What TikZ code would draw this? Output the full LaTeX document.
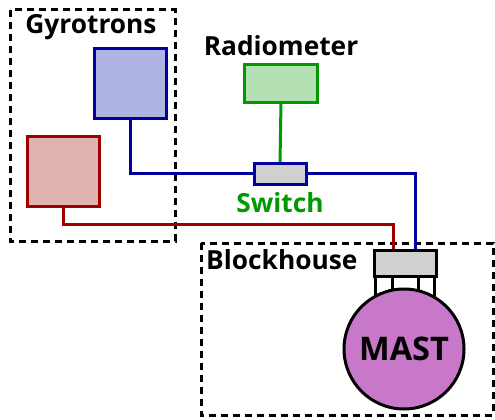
\documentclass[tikz,border=0pt]{standalone}
\usepackage{fontspec}
\setmainfont{Open Sans}
\definecolor{bluedark}{HTML}{0000A0}
\definecolor{bluefill}{HTML}{B0B4E2}
\definecolor{reddark}{HTML}{A00000}
\definecolor{redfill}{HTML}{E0B2B2}
\definecolor{greendark}{HTML}{009900}
\definecolor{greenfill}{HTML}{B2E0B2}
\definecolor{grayfill}{HTML}{D0D0D0}
\definecolor{mastfill}{HTML}{C878C8}
\begin{document}
\begin{tikzpicture}[x=1pt,y=-1pt,
  region/.style={draw=black,line width=3pt,dash pattern=on 7pt off 5pt},
  lbl/.style={font=\fontsize{26.3}{31}\selectfont\bfseries,inner sep=0pt},
  unit/.style={line width=3pt,inner sep=0pt,outer sep=0pt,anchor=north west},
  wire/.style={line width=3pt}]
\useasboundingbox (0,0) rectangle (495,420);
% regions
\draw[region] (10,10) rectangle (175,241);
\draw[region] (201,243) rectangle (493,415);
% labels
\node[lbl] (gyl) at (91,27) {Gyrotrons};
\node[lbl] (radl) at (281,46) {Radiometer};
\node[lbl,text=greendark] (swl) at (280,203) {Switch};
\node[lbl,anchor=west] (bhl) at (206,260) {Blockhouse};
% boxes
\node[unit,draw=bluedark,fill=bluefill,minimum width=72pt,minimum height=70pt] (gyb) at (94.5,48.5) {};
\node[unit,draw=reddark,fill=redfill,minimum width=72pt,minimum height=70pt] (gyr) at (27.5,136.5) {};
\node[unit,draw=greendark,fill=greenfill,minimum width=73pt,minimum height=37pt] (rad) at (244.5,65) {};
% wires
\coordinate (bc) at (129,173);
\coordinate (bd) at (415,173);
\coordinate (rc) at (63,224);
\coordinate (rd) at (393,224);
\draw[wire,greendark] (rad.south) -- (280,163);
\draw[wire,bluedark] (gyb.south) |- (bc) -- (bd) -- (415,252);
\draw[wire,reddark] (gyr.south -| rc) |- (rd) -- (393,252);
% switch
\node[unit,draw=bluedark,fill=grayfill,minimum width=52pt,minimum height=21pt] (sw) at (254.5,163) {};
% mast
\node[circle,draw=black,fill=mastfill,line width=3pt,minimum size=120pt,inner sep=0pt,outer sep=0pt,font=\fontsize{32.5}{38}\selectfont\bfseries] (mast) at (404,349) {MAST};
\foreach \xx in {375.5,392,418,434.5}{
  \pgfmathsetmacro{\yy}{349-sqrt(60*60-(\xx-404)*(\xx-404))}
  \draw[line width=3pt] (\xx,277) -- (\xx,\yy+1);
}
\node[unit,draw=black,fill=grayfill,minimum width=62pt,minimum height=26pt] (flange) at (374.5,250) {};
\end{tikzpicture}
\end{document}
